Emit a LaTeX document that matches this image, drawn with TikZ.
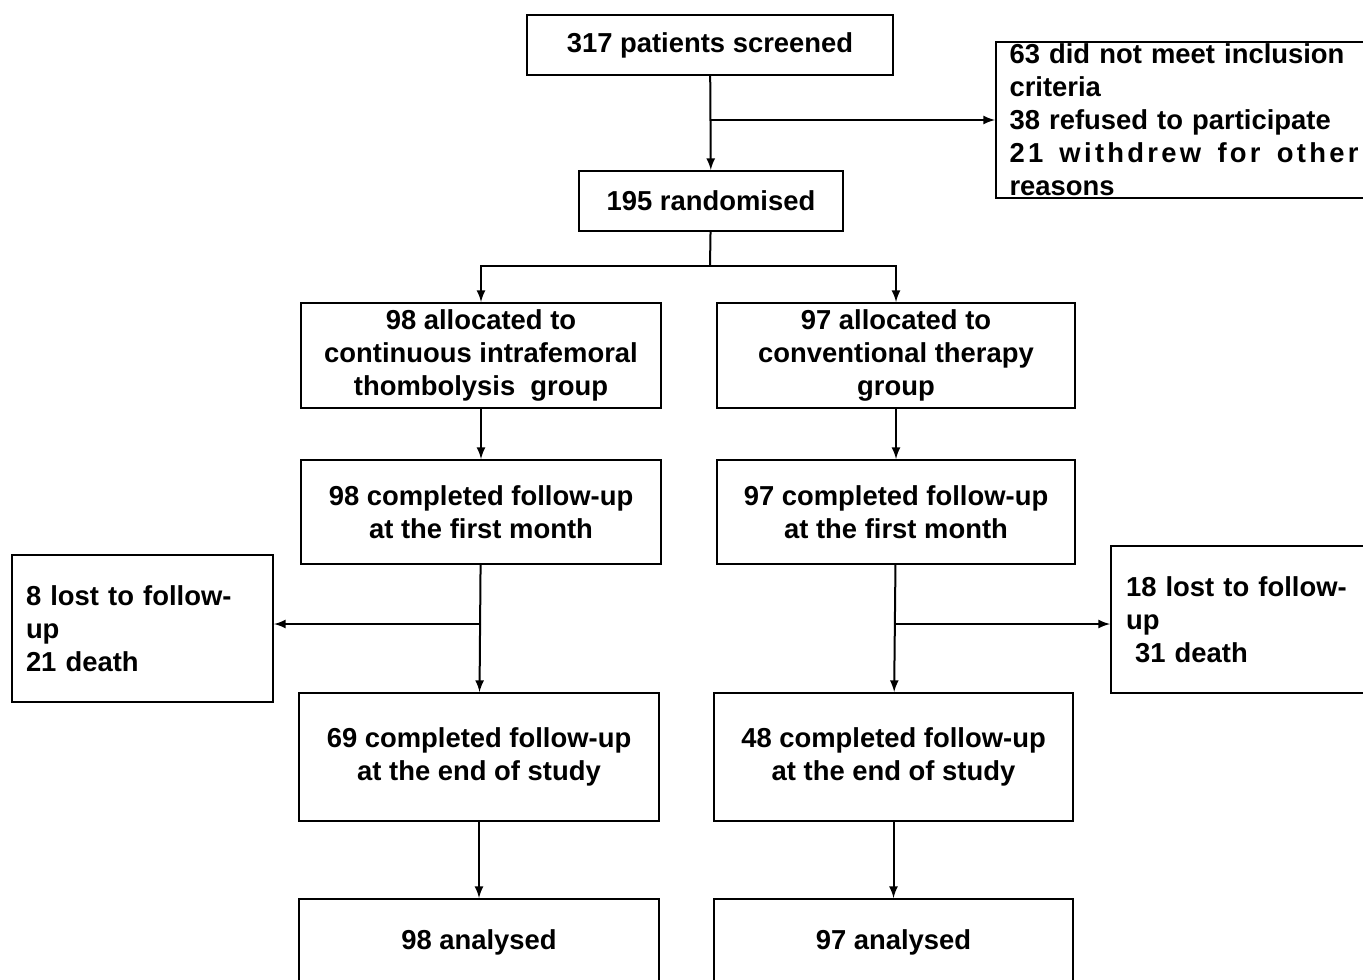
\documentclass[tikz,border=0pt]{standalone}
\usepackage{fontspec}
\setmainfont{Liberation Sans}
\usepackage{tikz}
\usetikzlibrary{arrows,positioning}
\newcommand{\widespread}[1]{\makebox[174.5pt][s]{\addfontfeature{LetterSpace=12}\spaceskip=0pt\relax #1}}
\tikzset{
  box/.style={draw, line width=1pt, align=center, inner sep=2pt},
  sidebox/.style={draw, line width=1pt, align=left, inner ysep=0pt},
  flow/.style={->, >=latex, line width=1pt}
}

\begin{document}
\begin{tikzpicture}[x=0.5pt, y=-0.5pt, font=\bfseries\fontsize{13.7}{16.5}\selectfont]
  \clip (0,0) rectangle (1363,979);
  \node[box, minimum width=183pt, minimum height=30pt] (screen) at (710,45) {317 patients screened};
  \node[sidebox, anchor=north west, text width=174.5pt, minimum width=188pt, minimum height=78pt] (excl) at (995,41)
    {63 did not meet inclusion\\criteria\\38 refused to participate\\\widespread{21 withdrew for other}\\reasons};
  \node[box, minimum width=132pt, minimum height=30pt] (rand) at (711,201) {195 randomised};
  \node[box, minimum width=180pt, minimum height=52.5pt] (lalloc) at (481,355.5) {98 allocated to\\continuous intrafemoral\\thombolysis\ \ group};
  \node[box, minimum width=179pt, minimum height=52.5pt] (ralloc) at (896,355.5) {97 allocated to\\conventional therapy\\group};
  \node[box, minimum width=180pt, minimum height=52pt] (lfirst) at (481,512) {98 completed follow-up\\at the first month};
  \node[box, minimum width=179pt, minimum height=52pt] (rfirst) at (896,512) {97 completed follow-up\\at the first month};
  \node[sidebox, text width=116.5pt, minimum width=130.5pt, minimum height=73.5pt] (llost) at (142.5,628.5) {8 lost to follow-\\up\\21 death};
  \node[sidebox, text width=117pt, minimum width=132pt, minimum height=73.5pt] (rlost) at (1243,619.5) {18 lost to follow-\\up\\\ 31 death};
  \node[box, minimum width=180pt, minimum height=64pt] (lend) at (479,757) {69 completed follow-up\\at the end of study};
  \node[box, minimum width=179.5pt, minimum height=64pt] (rend) at (893.5,757) {48 completed follow-up\\at the end of study};
  \node[box, minimum width=180pt, minimum height=43pt] (lana) at (479,942) {98 analysed};
  \node[box, minimum width=179.5pt, minimum height=43pt] (rana) at (893.5,942) {97 analysed};
  \coordinate (exsplit) at (710,120);
  \coordinate (rsplit) at (710,266);
  \coordinate (llsplit) at (481,624);
  \coordinate (rlsplit) at (895,624);
  \draw[flow] (screen) -- (rand);
  \draw[flow] (exsplit) -- (exsplit -| excl.west);
  \draw[line width=1pt] (rand) -- (rsplit);
  \draw[flow] (rsplit) -| (lalloc);
  \draw[flow] (rsplit) -| (ralloc);
  \draw[flow] (lalloc) -- (lfirst);
  \draw[flow] (ralloc) -- (rfirst);
  \draw[flow] (lfirst) -- (lend);
  \draw[flow] (rfirst) -- (rend);
  \draw[flow] (llsplit) -- (llsplit -| llost.east);
  \draw[flow] (rlsplit) -- (rlsplit -| rlost.west);
  \draw[flow] (lend) -- (lana);
  \draw[flow] (rend) -- (rana);
\end{tikzpicture}
\end{document}
